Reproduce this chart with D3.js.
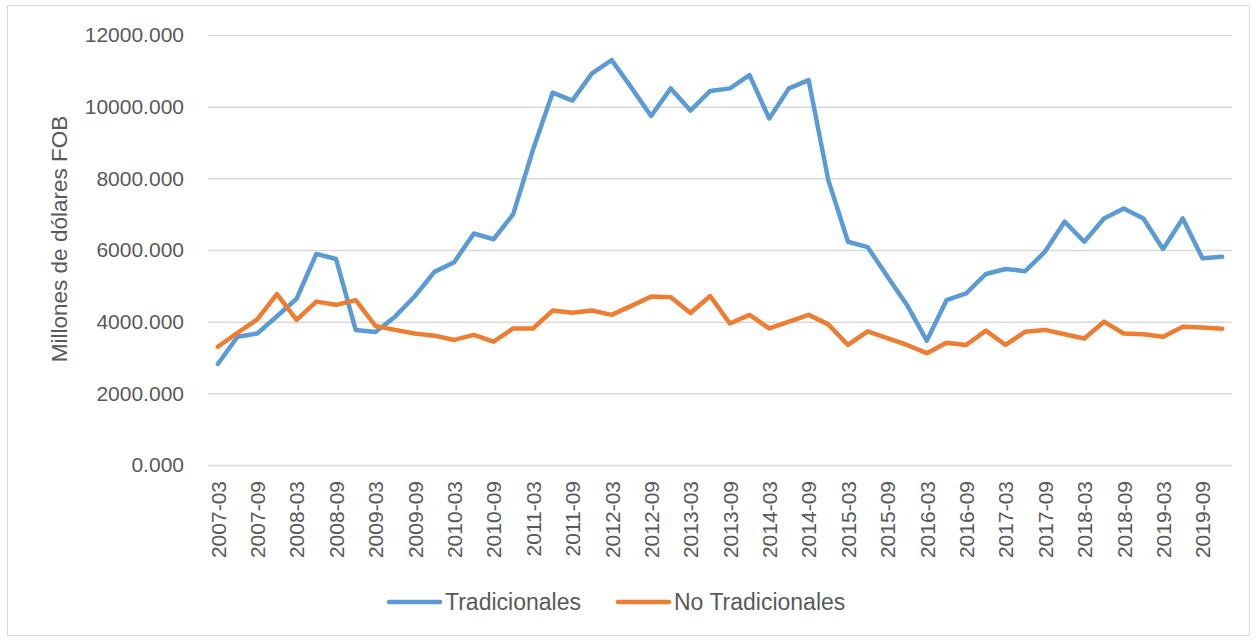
<!DOCTYPE html>
<html>
<head>
<meta charset="utf-8">
<script src="https://cdn.jsdelivr.net/npm/d3@7"></script>
<style>
  body { margin: 0; background: #fff; }
  text { font-family: "Liberation Sans", Arial, sans-serif; fill: #595959; }
</style>
</head>
<body>
<div class="chart"></div>
<script>
const width = 1257;
const height = 641;
const margin = { top: 35, right: 25, bottom: 176, left: 208 };

const years = d3.range(2007, 2020);
const months = ["03", "06", "09", "12"];
const quarters = years.flatMap(y => months.map(m => y + "-" + m));
const tickLabels = quarters.filter(q => q.endsWith("-03") || q.endsWith("-09"));
const yTicks = [0, 2000, 4000, 6000, 8000, 10000, 12000];

const tradicionales = [2820, 3580, 3670, 4150, 4640, 5890, 5750, 3770, 3710, 4140, 4710, 5390, 5660,
  6460, 6300, 7000, 8790, 10390, 10170, 10930, 11300, 10530, 9740, 10510, 9890, 10440,
  10510, 10880, 9670, 10510, 10740, 7950, 6230, 6080, 5260, 4460, 3470, 4600, 4790,
  5330, 5470, 5410, 5950, 6790, 6230, 6880, 7160, 6880, 6030, 6880, 5770, 5810];
const noTradicionales = [3300, 3690, 4065, 4770, 4050, 4560, 4470, 4600, 3880, 3770, 3670, 3610, 3490,
  3630, 3440, 3810, 3810, 4310, 4250, 4310, 4190, 4440, 4700, 4680, 4240, 4716,
  3950, 4190, 3810, 4000, 4190, 3925, 3350, 3730, 3540, 3350, 3120, 3410, 3350,
  3750, 3350, 3720, 3770, 3650, 3530, 4000, 3670, 3650, 3580, 3860, 3840, 3800];

const series = [
  { name: "Tradicionales", color: "#5b9bd5", values: tradicionales },
  { name: "No Tradicionales", color: "#ed7d31", values: noTradicionales }
];

const svg = d3.select(".chart")
  .append("svg")
  .attr("width", width)
  .attr("height", height);

// chart frame
svg.append("rect")
  .attr("x", 7.5)
  .attr("y", 5.5)
  .attr("width", 1242)
  .attr("height", 630)
  .attr("fill", "#fff")
  .attr("stroke", "#d9d9d9")
  .attr("stroke-width", 1);

const x = d3.scalePoint()
  .domain(quarters)
  .range([margin.left, width - margin.right])
  .padding(0.5);

const y = d3.scaleLinear()
  .domain([0, 12000])
  .range([height - margin.bottom, margin.top]);

// gridlines + y labels
const yAxis = d3.axisLeft(y)
  .tickValues(yTicks)
  .tickFormat(d3.format(".3f"))
  .tickSize(-(width - margin.right - margin.left))
  .tickPadding(24);

svg.append("g")
  .attr("transform", `translate(${margin.left},0)`)
  .call(yAxis)
  .call(g => g.select(".domain").remove())
  .call(g => g.selectAll(".tick line").attr("stroke", "#d9d9d9").attr("stroke-width", 1.5))
  .call(g => g.selectAll(".tick text")
    .attr("font-size", 21)
    .style("font-family", "'Liberation Sans', Arial, sans-serif")
    .attr("fill", "#595959"));

// x labels
const xAxis = d3.axisBottom(x)
  .tickValues(tickLabels)
  .tickSize(0)
  .tickPadding(0);

svg.append("g")
  .attr("transform", `translate(0,${height - margin.bottom})`)
  .call(xAxis)
  .call(g => g.select(".domain").remove())
  .call(g => g.selectAll(".tick text")
    .attr("font-size", 21)
    .style("font-family", "'Liberation Sans', Arial, sans-serif")
    .attr("fill", "#595959")
    .attr("text-anchor", "end")
    .attr("dy", "0.35em")
    .attr("transform", "translate(0,16) rotate(-90)")
    .attr("x", 0)
    .attr("y", 0));

// y title
svg.append("text")
  .attr("transform", "translate(67,239) rotate(-90)")
  .attr("text-anchor", "middle")
  .attr("font-size", 22.5)
  .text("Millones de dólares FOB");

const line = d3.line()
  .x((d, i) => x(quarters[i]))
  .y(d => y(d));

svg.selectAll(".series")
  .data(series)
  .enter()
  .append("path")
  .attr("class", "series")
  .attr("d", d => line(d.values))
  .attr("fill", "none")
  .attr("stroke", d => d.color)
  .attr("stroke-width", 4.5)
  .attr("stroke-linejoin", "round")
  .attr("stroke-linecap", "round");

// legend
const legendX = [389, 618];
const legend = svg.selectAll(".legend")
  .data(series)
  .enter()
  .append("g")
  .attr("class", "legend")
  .attr("transform", (d, i) => `translate(${legendX[i]},602)`);

legend.append("line")
  .attr("x1", 0)
  .attr("x2", 51)
  .attr("stroke", d => d.color)
  .attr("stroke-width", 4.5)
  .attr("stroke-linecap", "round");

legend.append("text")
  .attr("x", 56)
  .attr("dy", "0.36em")
  .attr("font-size", 23)
  .text(d => d.name);
</script>
</body>
</html>
